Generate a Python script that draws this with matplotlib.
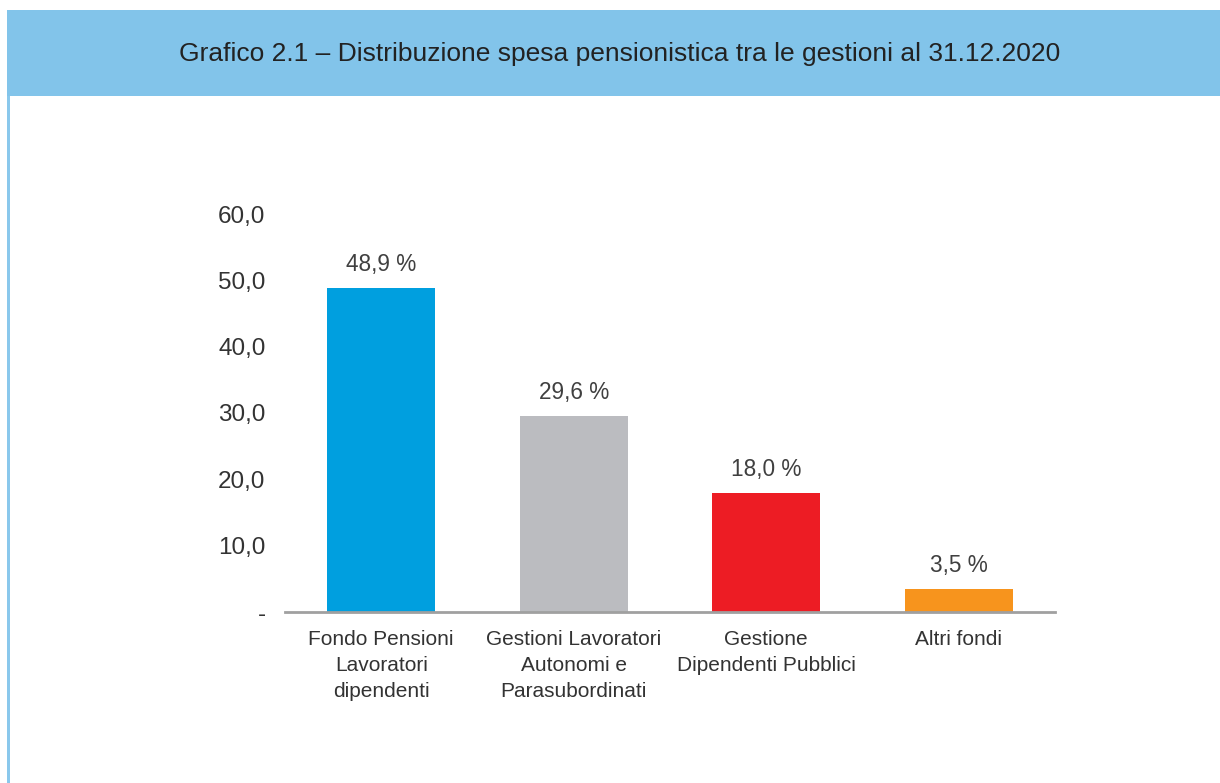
import matplotlib.pyplot as plt
from matplotlib.patches import Rectangle

# dati
categorie = ['Fondo Pensioni\nLavoratori\ndipendenti',
             'Gestioni Lavoratori\nAutonomi e\nParasubordinati',
             'Gestione\nDipendenti Pubblici',
             'Altri fondi']
valori = [48.9, 29.6, 18.0, 3.5]
etichette = ['48,9 %', '29,6 %', '18,0 %', '3,5 %']
colori = ['#009FDF', '#BBBCC0', '#ED1C24', '#F7941D']
tick_y = [0, 10, 20, 30, 40, 50, 60]
tick_y_label = ['-', '10,0', '20,0', '30,0', '40,0', '50,0', '60,0']
titolo = 'Grafico 2.1 – Distribuzione spesa pensionistica tra le gestioni al 31.12.2020'

plt.rcParams['font.family'] = ['Liberation Sans', 'DejaVu Sans']

fig = plt.figure(figsize=(12.2, 7.83), dpi=100)

# fascia del titolo e bordo sinistro
fig.patches.append(Rectangle((7/1220, 1 - 96/783), 1, 86/783, transform=fig.transFigure,
                             facecolor='#82C4EA', edgecolor='none'))
fig.patches.append(Rectangle((7/1220, 0), 3/1220, 1 - 96/783, transform=fig.transFigure,
                             facecolor='#8AC8EC', edgecolor='none'))
fig.text(620/1220, 1 - 54/783, titolo, ha='center', va='center', fontsize=19, color='#222222')

ax = fig.add_axes([285/1220, 1 - 612/783, 770/1220, 398/783])
x = range(len(valori))
ax.bar(x, valori, width=0.56, color=colori)
for i, v in enumerate(valori):
    ax.text(i, v + 3.5, etichette[i], ha='center', va='center', fontsize=16.3, color='#404040')

ax.set_xlim(-0.5, 3.5)
ax.set_ylim(0, 60)
ax.set_yticks(tick_y)
ax.set_yticklabels(tick_y_label)
ax.set_xticks(list(x))
ax.set_xticklabels(categorie, linespacing=1.45)
ax.tick_params(axis='y', length=0, pad=14, labelsize=17.5, labelcolor='#333333')
ax.tick_params(axis='x', length=0, pad=13, labelsize=15, labelcolor='#333333')
for s in ['top', 'right', 'left']:
    ax.spines[s].set_visible(False)
ax.spines['bottom'].set_color('#A0A0A0')
ax.spines['bottom'].set_linewidth(2)

fig.savefig('out.png', dpi=100)
